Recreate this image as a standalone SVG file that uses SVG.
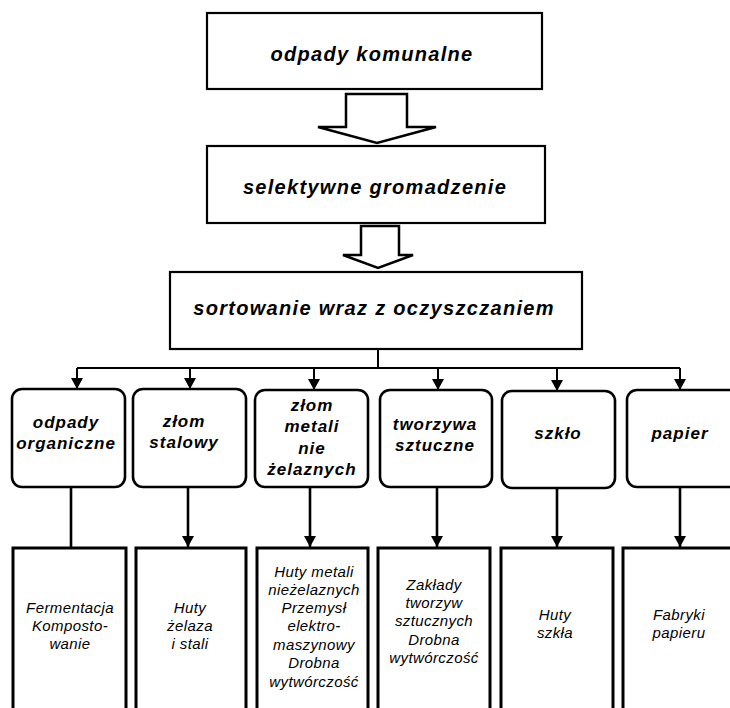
<svg xmlns="http://www.w3.org/2000/svg" width="730" height="708" viewBox="0 0 730 708">
  <style>
    .box { fill: #fff; stroke: #000; stroke-width: 2.2; }
    .cat { fill: #fff; stroke: #000; stroke-width: 2.6; }
    .dest { fill: #fff; stroke: #000; stroke-width: 3; }
    .block { fill: #fff; stroke: #000; stroke-width: 2.5; stroke-linejoin: miter; }
    .wire { fill: none; stroke: #000; stroke-width: 2; }
    .drop { fill: none; stroke: #000; stroke-width: 2.6; }
    .h1 { font-family: "Liberation Sans", Arial, sans-serif; font-weight: bold; font-style: italic; font-size: 20px; letter-spacing: 1.3px; text-anchor: middle; fill: #000; }
    .h2 { font-family: "Liberation Sans", Arial, sans-serif; font-weight: bold; font-style: italic; font-size: 17px; letter-spacing: 1px; text-anchor: middle; fill: #000; }
    .t3 { font-family: "Liberation Sans", Arial, sans-serif; font-style: italic; font-size: 15px; letter-spacing: 0.4px; text-anchor: middle; fill: #000; }
  </style>
  <defs>
    <!-- filled arrowhead, tip at the end of the line -->
    <marker id="head" viewBox="0 0 11 12" refX="11" refY="6" markerWidth="11" markerHeight="12" markerUnits="userSpaceOnUse" orient="auto">
      <path d="M0,0 L11,6 L0,12 Z" fill="#000"/>
    </marker>
  </defs>

  <rect width="730" height="708" fill="#fff"/>

  <!-- top chain -->
  <g id="odpady-komunalne">
    <rect class="box" x="207" y="13" width="335" height="76"/>
    <text class="h1" x="372" y="61">odpady komunalne</text>
  </g>
  <g id="selektywne-gromadzenie">
    <rect class="box" x="207" y="146" width="338" height="77"/>
    <text class="h1" x="375" y="194">selektywne gromadzenie</text>
  </g>
  <g id="sortowanie">
    <rect class="box" x="170" y="272" width="412" height="77"/>
    <text class="h1" x="374" y="315">sortowanie wraz z oczyszczaniem</text>
  </g>

  <!-- categories -->
  <g id="odpady-organiczne">
    <rect class="cat" x="12" y="389" width="113" height="98" rx="10"/>
    <text class="h2" x="66" y="428">odpady</text>
    <text class="h2" x="66" y="449">organiczne</text>
  </g>
  <g id="zlom-stalowy">
    <rect class="cat" x="133" y="389" width="113" height="98" rx="10"/>
    <text class="h2" x="184" y="427">złom</text>
    <text class="h2" x="184" y="448">stalowy</text>
  </g>
  <g id="zlom-metali">
    <rect class="cat" x="255" y="390" width="113" height="97" rx="10"/>
    <text class="h2" x="312" y="411">złom</text>
    <text class="h2" x="312" y="432">metali</text>
    <text class="h2" x="312" y="454">nie</text>
    <text class="h2" x="312" y="475">żelaznych</text>
  </g>
  <g id="tworzywa-sztuczne">
    <rect class="cat" x="380" y="390" width="112" height="97" rx="10"/>
    <text class="h2" x="435" y="430">tworzywa</text>
    <text class="h2" x="435" y="451">sztuczne</text>
  </g>
  <g id="szklo">
    <rect class="cat" x="502" y="391" width="113" height="97" rx="10"/>
    <text class="h2" x="558" y="439">szkło</text>
  </g>
  <g id="papier">
    <rect class="cat" x="627" y="390" width="113" height="97" rx="10"/>
    <text class="h2" x="680" y="439">papier</text>
  </g>

  <!-- destinations -->
  <g id="fermentacja">
    <rect class="dest" x="13" y="548" width="113" height="180"/>
    <text class="t3" x="70" y="613">Fermentacja</text>
    <text class="t3" x="70" y="631">Komposto-</text>
    <text class="t3" x="70" y="649">wanie</text>
  </g>
  <g id="huty-zelaza">
    <rect class="dest" x="136" y="548" width="110" height="180"/>
    <text class="t3" x="190" y="613">Huty</text>
    <text class="t3" x="190" y="631">żelaza</text>
    <text class="t3" x="190" y="649">i stali</text>
  </g>
  <g id="huty-metali">
    <rect class="dest" x="257" y="548" width="111" height="180"/>
    <text class="t3" x="314" y="577">Huty metali</text>
    <text class="t3" x="314" y="595">nieżelaznych</text>
    <text class="t3" x="314" y="613">Przemysł</text>
    <text class="t3" x="314" y="631">elektro-</text>
    <text class="t3" x="314" y="650">maszynowy</text>
    <text class="t3" x="314" y="668">Drobna</text>
    <text class="t3" x="314" y="687">wytwórczość</text>
  </g>
  <g id="zaklady-tworzyw">
    <rect class="dest" x="378" y="548" width="112" height="180"/>
    <text class="t3" x="434" y="590">Zakłady</text>
    <text class="t3" x="434" y="608">tworzyw</text>
    <text class="t3" x="434" y="626">sztucznych</text>
    <text class="t3" x="434" y="645">Drobna</text>
    <text class="t3" x="434" y="663">wytwórczość</text>
  </g>
  <g id="huty-szkla">
    <rect class="dest" x="501" y="548" width="112" height="180"/>
    <text class="t3" x="555" y="620">Huty</text>
    <text class="t3" x="555" y="638">szkła</text>
  </g>
  <g id="fabryki-papieru">
    <rect class="dest" x="623" y="548" width="117" height="180"/>
    <text class="t3" x="679" y="620">Fabryki</text>
    <text class="t3" x="679" y="638">papieru</text>
  </g>

  <!-- connectors -->
  <g id="connectors">
    <path class="block" d="M346,94 H407 V127 H436 L377,143 L318,127 H346 Z"/>
    <path class="block" d="M361,226 H399 V255 H413 L378,268 L343,255 H361 Z"/>
    <path class="wire" d="M378,349 V368 M77,368 H680"/>
    <line class="wire" x1="77" y1="368" x2="77" y2="389" marker-end="url(#head)"/>
    <line class="wire" x1="190" y1="368" x2="190" y2="389" marker-end="url(#head)"/>
    <line class="wire" x1="314" y1="368" x2="314" y2="390" marker-end="url(#head)"/>
    <line class="wire" x1="438" y1="368" x2="438" y2="390" marker-end="url(#head)"/>
    <line class="wire" x1="557" y1="368" x2="557" y2="391" marker-end="url(#head)"/>
    <line class="wire" x1="680" y1="368" x2="680" y2="390" marker-end="url(#head)"/>
    <line class="drop" x1="71" y1="487" x2="71" y2="548"/>
    <line class="drop" x1="188" y1="487" x2="188" y2="547" marker-end="url(#head)"/>
    <line class="drop" x1="310" y1="487" x2="310" y2="547" marker-end="url(#head)"/>
    <line class="drop" x1="437" y1="487" x2="437" y2="547" marker-end="url(#head)"/>
    <line class="drop" x1="557" y1="488" x2="557" y2="547" marker-end="url(#head)"/>
    <line class="drop" x1="680" y1="487" x2="680" y2="547" marker-end="url(#head)"/>
  </g>
</svg>
